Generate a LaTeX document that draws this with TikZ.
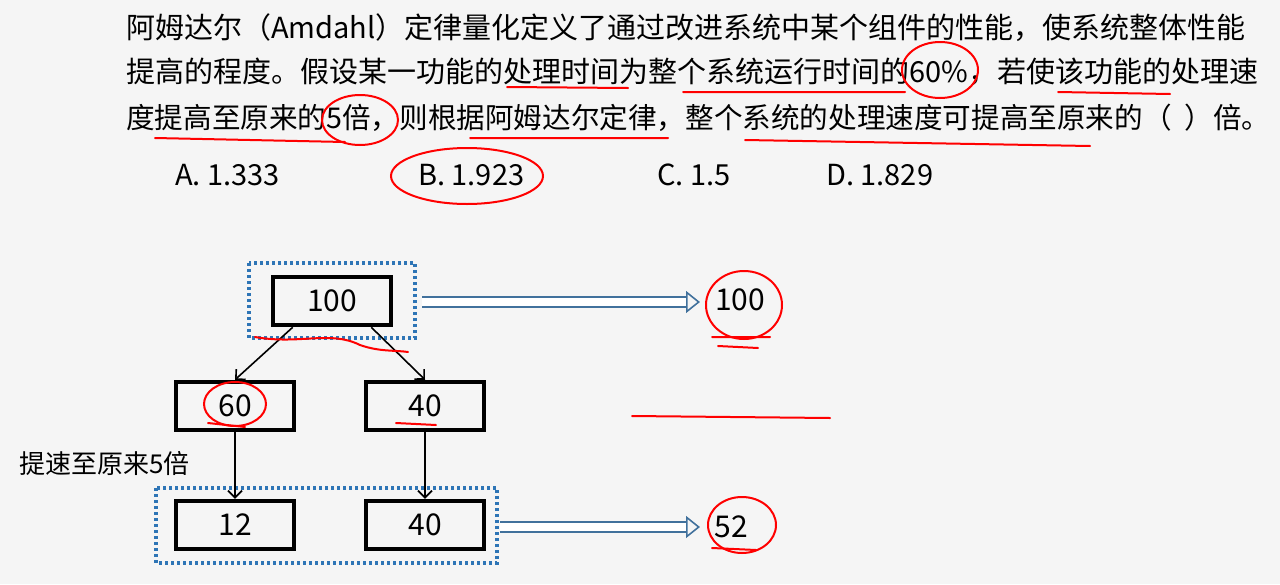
\documentclass[tikz,border=0pt]{standalone}
\usepackage{fontspec}
\setmainfont{Noto Sans CJK SC}
\usetikzlibrary{arrows.meta}
\begin{document}
\begin{tikzpicture}[x=1pt,y=-1pt,
  box/.style={draw=black,line width=4.5pt,minimum width=118pt,minimum height=48pt,font=\fontsize{30}{30}\selectfont,inner sep=0pt},
  grp/.style={draw={rgb,255:red,46;green,117;blue,182},line width=3.5pt,dash pattern=on 3pt off 3pt},
  hol/.style={double={white},double distance=8pt,draw={rgb,255:red,65;green,113;blue,156},line width=1.6pt,-{Triangle[open,length=14pt,width=22pt]}},
  con/.style={draw=black,line width=1.6pt,-{Straight Barb[length=7pt]}},
  ink/.style={draw=red,line width=2pt,line cap=round},
  txt/.style={anchor=west,inner sep=0pt,font=\fontsize{29}{29}\selectfont}]
\fill[white!96!black] (0,0) rectangle (1280,584);
\useasboundingbox (0,0) rectangle (1280,584);
\node[txt] (l1) at (126,28) {阿姆达尔（Amdahl）定律量化定义了通过改进系统中某个组件的性能，使系统整体性能};
\node[txt] (l2) at (126,72) {提高的程度。假设某一功能的处理时间为整个系统运行时间的60\%，若使该功能的处理速};
\node[txt,font=\fontsize{28.6}{28.6}\selectfont] (l3) at (126,118) {度提高至原来的5倍，则根据阿姆达尔定律，整个系统的处理速度可提高至原来的（\ \ ）倍。};
\node[txt] (oa) at (175,175) {A. 1.333};
\node[txt] (ob) at (418,175) {B. 1.923};
\node[txt] (oc) at (657,175) {C. 1.5};
\node[txt] (od) at (826,175) {D. 1.829};

\node[box] (a) at (332,301) {100};
\node[box] (b) at (235,406) {60};
\node[box] (c) at (425,406) {40};
\node[box] (d) at (235,525) {12};
\node[box] (e) at (425,525) {40};
\draw[grp] (249,263) rectangle (415,338);
\draw[grp] (156,488) rectangle (497,563);
\node[txt,font=\fontsize{26}{26}\selectfont] (lab) at (19,464) {提速至原来5倍};
\node[font=\fontsize{30}{30}\selectfont] (r1) at (740,300) {100};
\node[font=\fontsize{30}{30}\selectfont] (r2) at (731,527) {52};
\coordinate (h1) at (422,302); \coordinate (h2) at (700,302);
\coordinate (h3) at (500,527); \coordinate (h4) at (700,527);
\draw[hol] (h1) -- (h2);
\draw[hol] (h3) -- (h4);
\draw[con] (a.south west)++(22,0) -- (b.north);
\draw[con] (a.south east)++(-22,0) -- (c.north);
\draw[con] (b) -- (d);
\draw[con] (c) -- (e);

% red annotations
\draw[ink] (744,305) ellipse (38 and 34);
\draw[ink] (712,337) -- (770,337) (718,346)--(758,348);
\draw[ink] (235,404) ellipse (31 and 22);
\draw[ink] (208,423)--(245,427);
\draw[ink] (396,423)--(436,425);
\draw[ink] (742,525) ellipse (34 and 28);
\draw[ink] (712,548)--(756,550);
\draw[ink] (632,416)--(830,418);
\draw[ink] (255,337) .. controls (300,345) and (330,330) .. (360,345) .. controls (380,352) and (395,350) .. (408,352);
\draw[ink] (467,176) ellipse (76 and 28);
\draw[ink] (940,70) ellipse (38 and 28);
\draw[ink] (360,120) ellipse (38 and 25);
\draw[ink] (507,87)--(628,88) (683,92)--(905,92) (1058,92)--(1170,94);
\draw[ink] (155,138)--(345,142) (470,138)--(668,138) (745,140)--(1090,146);
\end{tikzpicture}
\end{document}
